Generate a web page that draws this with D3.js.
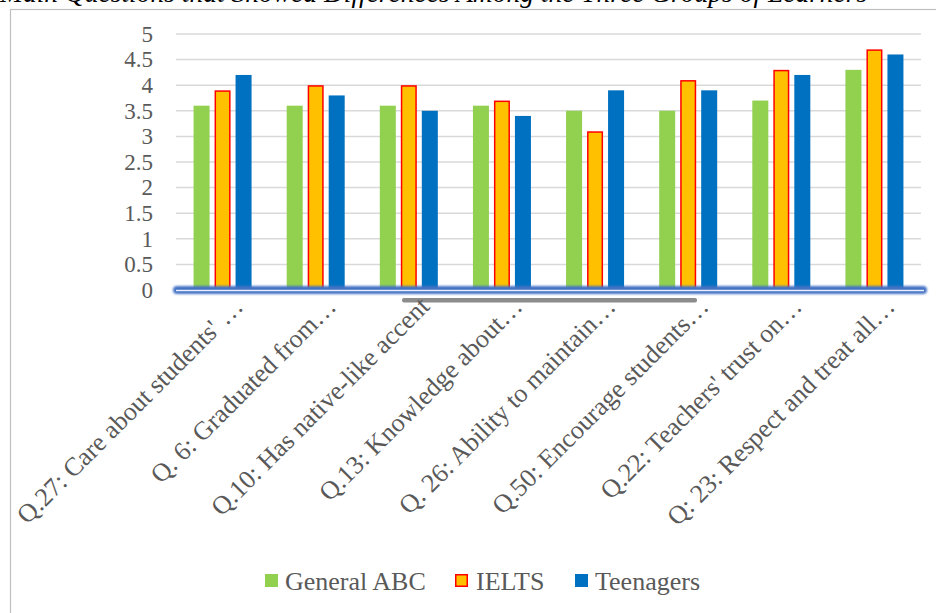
<!DOCTYPE html>
<html>
<head>
<meta charset="utf-8">
<script src="https://cdn.jsdelivr.net/npm/d3@7"></script>
<style>
  body { margin: 0; background: #fff; }
  svg { display: block; }
</style>
</head>
<body>
<div id="chart"></div>
<script>
// Data
const categories = [
  "Q.27: Care about students' \u2026",
  "Q. 6: Graduated from\u2026",
  "Q.10: Has native-like accent",
  "Q.13: Knowledge about\u2026",
  "Q. 26: Ability to maintain\u2026",
  "Q.50: Encourage students\u2026",
  "Q.22: Teachers' trust on\u2026",
  "Q: 23: Respect and treat all\u2026"
];
const seriesNames = ["General ABC", "IELTS", "Teenagers"];
const generalABC = [3.6, 3.6, 3.6, 3.6, 3.5, 3.5, 3.7, 4.3];
const ielts      = [3.9, 4.0, 4.0, 3.7, 3.1, 4.1, 4.3, 4.7];
const teenagers  = [4.2, 3.8, 3.5, 3.4, 3.9, 3.9, 4.2, 4.6];
const yTicks = [0, 0.5, 1, 1.5, 2, 2.5, 3, 3.5, 4, 4.5, 5];
const titleText = "Main Questions that Showed Differences Among the Three Groups of Learners";

const seriesValues = [generalABC, ielts, teenagers];
const fills = ["#92D050", "#FFC000", "#0070C0"];
const strokes = ["none", "#FF0000", "none"];

const W = 936, H = 613;
const plot = {left: 176, right: 921, top: 34, bottom: 290};
const font = "'Liberation Serif', 'Times New Roman', serif";
const textColor = "#595959";

const svg = d3.select("#chart").append("svg")
  .attr("width", W)
  .attr("height", H);

// blur for the glowing baseline
const defs = svg.append("defs");
defs.append("filter").attr("id", "glow")
  .attr("x", "-5%").attr("y", "-200%").attr("width", "110%").attr("height", "500%")
  .append("feGaussianBlur").attr("stdDeviation", 1.3);

// Cut-off caption above the frame
svg.append("text")
  .attr("x", 0)
  .attr("y", 2)
  .attr("font-family", font)
  .attr("font-style", "italic")
  .attr("font-size", 27.5)
  .attr("fill", "#000")
  .text(titleText);

// Chart frame
svg.append("rect")
  .attr("x", 10.5)
  .attr("y", 9.5)
  .attr("width", W)
  .attr("height", H)
  .attr("fill", "none")
  .attr("stroke", "#bfbfbf")
  .attr("stroke-width", 1.2);

// Scales
const y = d3.scaleLinear()
  .domain([0, 5])
  .range([plot.bottom, plot.top]);

const x0 = d3.scaleBand()
  .domain(categories)
  .range([plot.left, plot.right])
  .padding(0);

const x1 = d3.scaleBand()
  .domain(seriesNames)
  .range([-29, 29])
  .paddingInner(5 / 21)
  .paddingOuter(0);

// Gridlines
svg.append("g")
  .selectAll("line")
  .data(yTicks.filter(t => t > 0))
  .enter()
  .append("line")
  .attr("x1", plot.left)
  .attr("x2", plot.right)
  .attr("y1", d => y(d))
  .attr("y2", d => y(d))
  .attr("stroke", "#d9d9d9")
  .attr("stroke-width", 1.5);

// Y axis labels
const yAxis = svg.append("g")
  .attr("transform", `translate(${plot.left - 23},0)`)
  .call(d3.axisLeft(y).tickValues(yTicks).tickSize(0).tickPadding(0).tickFormat(d3.format("")));
yAxis.select(".domain").remove();
yAxis.selectAll("text")
  .attr("font-family", font)
  .attr("font-size", 23)
  .attr("fill", textColor)
  .attr("dy", "0.32em");

// Bars
categories.forEach((cat, i) => {
  const cx = x0(cat) + x0.bandwidth() / 2;
  const g = svg.append("g").attr("transform", `translate(${cx},0)`);
  seriesNames.forEach((name, s) => {
    const v = seriesValues[s][i];
    const hasStroke = strokes[s] !== "none";
    g.append("rect")
      .attr("x", x1(name) + (hasStroke ? 0.75 : 0))
      .attr("y", y(v) + (hasStroke ? 0.75 : 0))
      .attr("width", x1.bandwidth() - (hasStroke ? 1.5 : 0))
      .attr("height", y(0) - y(v) - (hasStroke ? 0.75 : 0))
      .attr("fill", fills[s])
      .attr("stroke", strokes[s])
      .attr("stroke-width", 1.5);
  });
});

// Glowing baseline
svg.append("rect")
  .attr("x", plot.left - 3)
  .attr("y", y(0) - 4)
  .attr("width", plot.right - plot.left + 9)
  .attr("height", 8)
  .attr("rx", 4)
  .attr("fill", "#4472C4")
  .attr("filter", "url(#glow)");
svg.append("line")
  .attr("x1", plot.left)
  .attr("x2", plot.right + 3)
  .attr("y1", y(0) + 0.5)
  .attr("y2", y(0) + 0.5)
  .attr("stroke", "#e8eefa")
  .attr("stroke-width", 1.5);

// Gray bar below the baseline
svg.append("rect")
  .attr("x", 402)
  .attr("y", 298)
  .attr("width", 295)
  .attr("height", 4.5)
  .attr("rx", 2)
  .attr("fill", "#8c8c8c");

// Rotated category labels
svg.append("g")
  .selectAll("text")
  .data(categories)
  .enter()
  .append("text")
  .attr("transform", d => `translate(${x0(d) + x0.bandwidth() / 2 + 22},308) rotate(-45)`)
  .attr("text-anchor", "end")
  .attr("font-family", font)
  .attr("font-size", 26)
  .attr("fill", textColor)
  .text(d => d);

// Legend
const legendItems = [
  {name: seriesNames[0], box: 265, text: 285},
  {name: seriesNames[1], box: 455, text: 476},
  {name: seriesNames[2], box: 575, text: 595}
];
const legend = svg.append("g");
legendItems.forEach((item, i) => {
  const hasStroke = strokes[i] !== "none";
  legend.append("rect")
    .attr("x", item.box + (hasStroke ? 0.75 : 0))
    .attr("y", 574 + (hasStroke ? 0.75 : 0))
    .attr("width", 13 - (hasStroke ? 1.5 : 0))
    .attr("height", 13 - (hasStroke ? 1.5 : 0))
    .attr("fill", fills[i])
    .attr("stroke", strokes[i])
    .attr("stroke-width", 1.5);
  legend.append("text")
    .attr("x", item.text)
    .attr("y", 590)
    .attr("font-family", font)
    .attr("font-size", 26)
    .attr("fill", textColor)
    .text(item.name);
});
</script>
</body>
</html>
